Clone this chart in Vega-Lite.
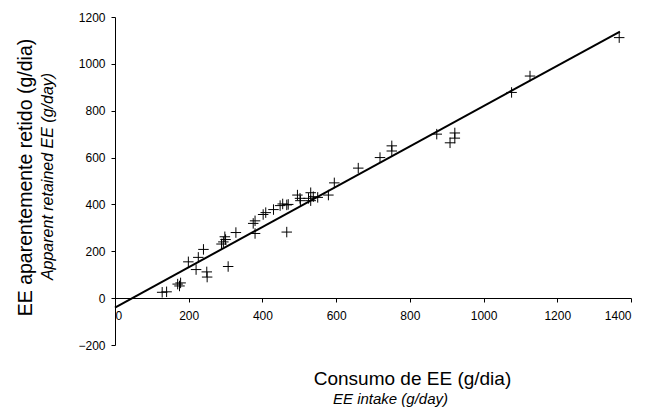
{
  "$schema": "https://vega.github.io/schema/vega-lite/v6.json",
  "autosize": {"type": "none"},
  "width": 516,
  "height": 328,
  "padding": {"left": 115, "top": 17, "right": 27, "bottom": 67},
  "background": "white",
  "config": {
    "view": {"stroke": null},
    "font": "Liberation Sans",
    "axis": {
      "labelFont": "Liberation Sans",
      "titleFont": "Liberation Sans",
      "labelColor": "black",
      "titleColor": "black",
      "domainColor": "black",
      "tickColor": "black",
      "grid": false,
      "labelFontSize": 12,
      "tickSize": 4,
      "domainWidth": 1,
      "tickWidth": 1
    }
  },
  "layer": [
    {
      "data": {
        "values": [
          {"intake": 128, "retained": 25},
          {"intake": 140, "retained": 27},
          {"intake": 170, "retained": 60},
          {"intake": 178, "retained": 65},
          {"intake": 175, "retained": 52},
          {"intake": 199, "retained": 155},
          {"intake": 220, "retained": 122},
          {"intake": 226, "retained": 174},
          {"intake": 240, "retained": 208},
          {"intake": 249, "retained": 112},
          {"intake": 250, "retained": 90},
          {"intake": 289, "retained": 231},
          {"intake": 294, "retained": 240},
          {"intake": 298, "retained": 262},
          {"intake": 300, "retained": 250},
          {"intake": 307, "retained": 135},
          {"intake": 328, "retained": 280},
          {"intake": 375, "retained": 319},
          {"intake": 380, "retained": 330},
          {"intake": 380, "retained": 276},
          {"intake": 402, "retained": 357},
          {"intake": 409, "retained": 365},
          {"intake": 430, "retained": 378},
          {"intake": 448, "retained": 395},
          {"intake": 455, "retained": 402},
          {"intake": 466, "retained": 398},
          {"intake": 470, "retained": 400},
          {"intake": 466, "retained": 282},
          {"intake": 495, "retained": 440},
          {"intake": 502, "retained": 426},
          {"intake": 503, "retained": 416},
          {"intake": 525, "retained": 426},
          {"intake": 531, "retained": 450},
          {"intake": 531, "retained": 416},
          {"intake": 538, "retained": 433},
          {"intake": 550, "retained": 430},
          {"intake": 579, "retained": 440},
          {"intake": 595, "retained": 492},
          {"intake": 660, "retained": 555},
          {"intake": 719, "retained": 600},
          {"intake": 751, "retained": 650},
          {"intake": 751, "retained": 628},
          {"intake": 873, "retained": 700},
          {"intake": 909, "retained": 663},
          {"intake": 922, "retained": 705},
          {"intake": 922, "retained": 683},
          {"intake": 1076, "retained": 878},
          {"intake": 1126, "retained": 948},
          {"intake": 1368, "retained": 1112}
        ]
      },
      "mark": {
        "type": "point",
        "shape": "M-1,0L1,0M0,-1L0,1",
        "filled": false,
        "stroke": "black",
        "strokeWidth": 1,
        "size": 110,
        "opacity": 1
      },
      "encoding": {
        "x": {
          "field": "intake",
          "type": "quantitative",
          "scale": {"domain": [0, 1400], "nice": false, "zero": false},
          "axis": {
            "orient": "bottom",
            "offset": -47,
            "values": [0, 200, 400, 600, 800, 1000, 1200, 1400],
            "format": "d",
            "labelPadding": 8,
            "title": "Consumo de EE (g/dia)",
            "titleFontSize": 19,
            "titleFontWeight": "normal",
            "titleBaseline": "middle",
            "titleAlign": "center",
            "titleX": 297,
            "titleY": 80
          }
        },
        "y": {
          "field": "retained",
          "type": "quantitative",
          "scale": {"domain": [-200, 1200], "nice": false, "zero": false},
          "axis": {
            "orient": "left",
            "values": [-200, 0, 200, 400, 600, 800, 1000, 1200],
            "format": "d",
            "labelPadding": 6,
            "title": "Apparent retained EE  (g/day)",
            "titleFontSize": 16,
            "titleFontStyle": "italic",
            "titleFontWeight": "normal",
            "titleBaseline": "middle",
            "titleAlign": "center",
            "titleAngle": -90,
            "titleX": -68,
            "titleY": 159
          }
        }
      }
    },
    {
      "data": {
        "values": [
          {"intake": 0, "retained": -40},
          {"intake": 1370, "retained": 1138}
        ]
      },
      "mark": {"type": "line", "color": "black", "strokeWidth": 2},
      "encoding": {
        "x": {
          "field": "intake",
          "type": "quantitative",
          "axis": {
            "orient": "bottom",
            "offset": -47,
            "labels": false,
            "ticks": false,
            "domain": false,
            "title": "EE intake (g/day)",
            "titleFontSize": 15,
            "titleFontStyle": "italic",
            "titleFontWeight": "normal",
            "titleBaseline": "middle",
            "titleAlign": "center",
            "titleX": 275,
            "titleY": 100
          }
        },
        "y": {
          "field": "retained",
          "type": "quantitative",
          "axis": {
            "orient": "left",
            "labels": false,
            "ticks": false,
            "domain": false,
            "title": "EE aparentemente retido (g/dia)",
            "titleFontSize": 19.5,
            "titleFontWeight": "normal",
            "titleBaseline": "middle",
            "titleAlign": "center",
            "titleAngle": -90,
            "titleX": -90,
            "titleY": 160
          }
        }
      }
    }
  ],
  "resolve": {"axis": {"x": "independent", "y": "independent"}}
}
